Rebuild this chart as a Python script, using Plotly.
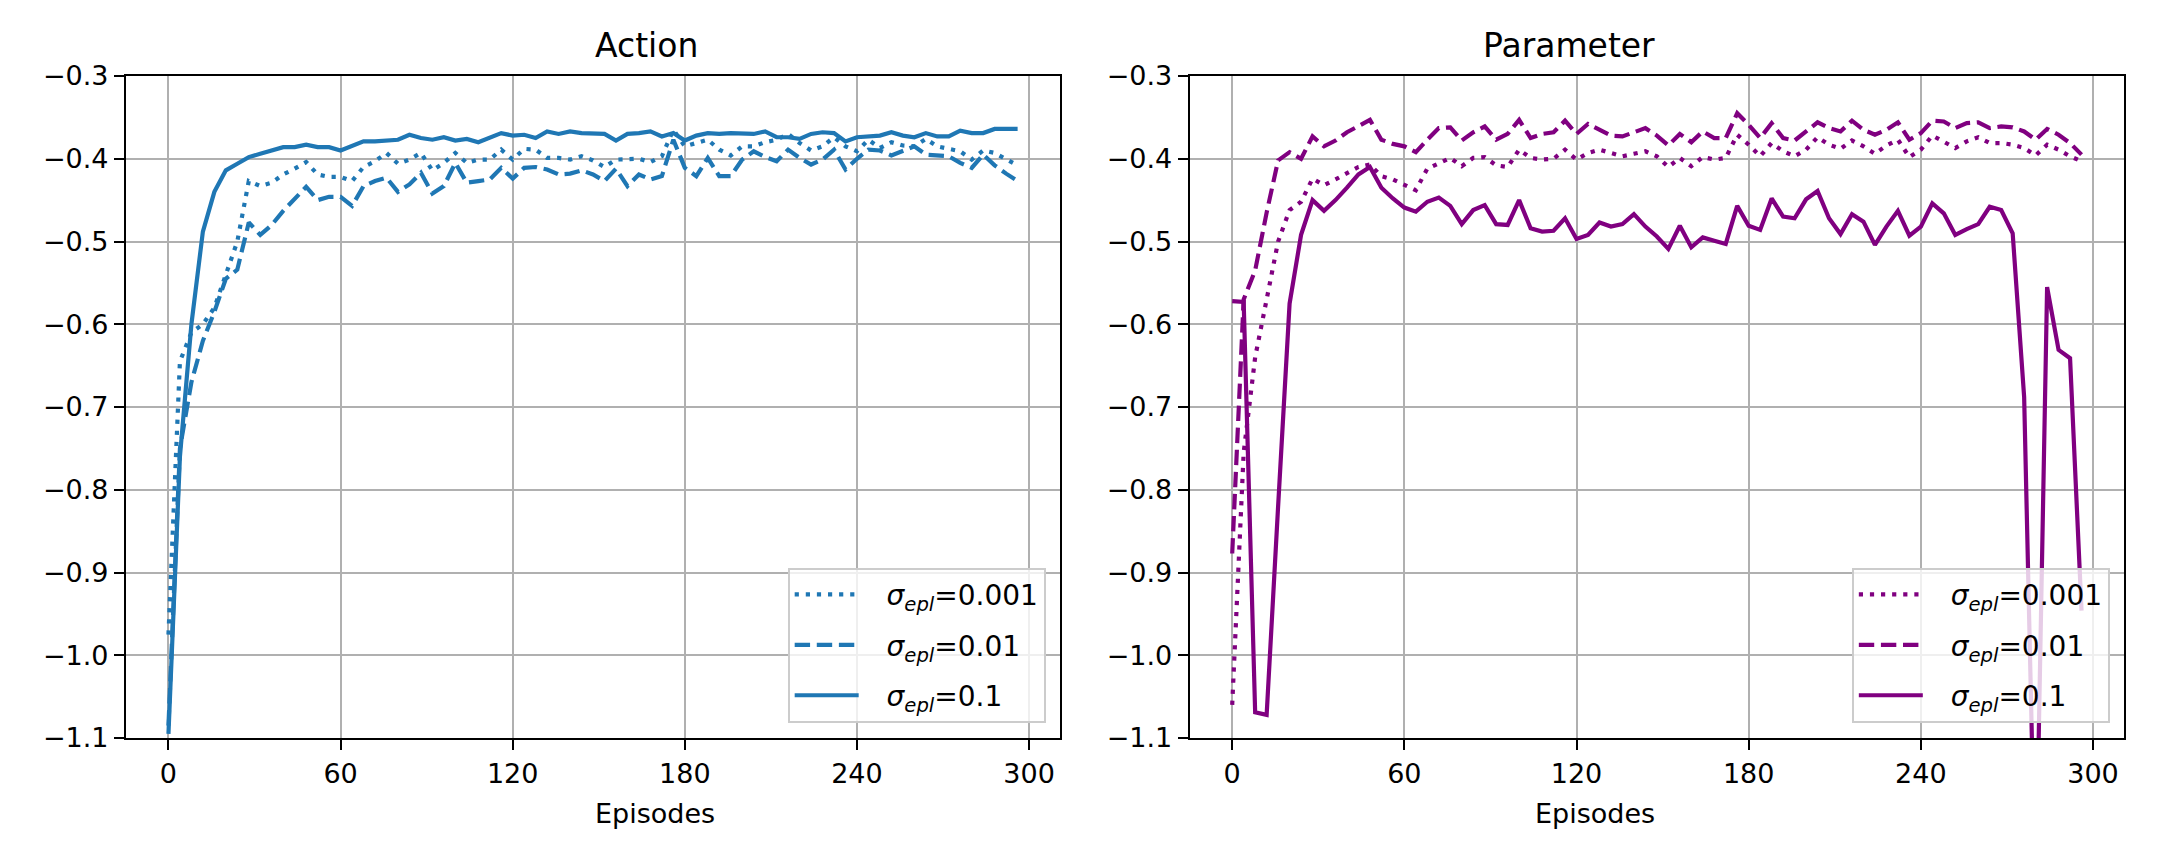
import plotly.graph_objects as go

# episodes on the x axis (one point every 4 episodes)
episodes = list(range(0, 300, 4))

# Action panel
action_001 = [-0.975, -0.645, -0.61, -0.60, -0.58, -0.54, -0.50, -0.427, -0.433, -0.429,
              -0.419, -0.412, -0.404, -0.419, -0.422, -0.422, -0.427, -0.41, -0.403, -0.393,
              -0.406, -0.401, -0.393, -0.414, -0.405, -0.393, -0.405, -0.401, -0.401, -0.389,
              -0.401, -0.388, -0.389, -0.399, -0.399, -0.401, -0.397, -0.402, -0.41, -0.401,
              -0.40, -0.40, -0.404, -0.397, -0.365, -0.385, -0.381, -0.377, -0.389, -0.396,
              -0.385, -0.385, -0.38, -0.377, -0.37, -0.381, -0.39, -0.385, -0.374, -0.385,
              -0.391, -0.377, -0.387, -0.38, -0.384, -0.385, -0.376, -0.385, -0.388, -0.391,
              -0.401, -0.39, -0.393, -0.401, -0.408]
action_01 = [-1.085, -0.75, -0.67, -0.62, -0.585, -0.545, -0.534, -0.477, -0.492, -0.48,
             -0.463, -0.449, -0.434, -0.45, -0.446, -0.446, -0.457, -0.433, -0.427, -0.423,
             -0.44, -0.431, -0.417, -0.442, -0.433, -0.405, -0.429, -0.427, -0.425, -0.411,
             -0.424, -0.411, -0.41, -0.413, -0.419, -0.418, -0.414, -0.419, -0.427, -0.412,
             -0.433, -0.419, -0.425, -0.421, -0.377, -0.411, -0.421, -0.399, -0.421, -0.421,
             -0.401, -0.391, -0.398, -0.403, -0.389, -0.399, -0.407, -0.401, -0.389, -0.413,
             -0.40, -0.389, -0.39, -0.396, -0.39, -0.385, -0.395, -0.396, -0.397, -0.405,
             -0.411, -0.395, -0.408, -0.418, -0.427]
action_1 = [-1.095, -0.76, -0.60, -0.488, -0.44, -0.414, -0.406, -0.398, -0.394, -0.39,
            -0.386, -0.386, -0.383, -0.386, -0.386, -0.39, -0.384, -0.379, -0.379, -0.378,
            -0.377, -0.371, -0.375, -0.377, -0.374, -0.378, -0.376, -0.38, -0.375, -0.369,
            -0.372, -0.371, -0.375, -0.367, -0.37, -0.367, -0.369, -0.369, -0.37, -0.378,
            -0.37, -0.369, -0.367, -0.373, -0.369, -0.378, -0.372, -0.369, -0.37, -0.369,
            -0.369, -0.37, -0.367, -0.374, -0.374, -0.376, -0.37, -0.368, -0.369, -0.379,
            -0.374, -0.373, -0.372, -0.368, -0.372, -0.374, -0.369, -0.373, -0.373, -0.366,
            -0.369, -0.369, -0.364, -0.364, -0.364]

# Parameter panel
param_001 = [-1.06, -0.755, -0.64, -0.57, -0.50, -0.462, -0.452, -0.424, -0.432, -0.425,
             -0.418, -0.41, -0.407, -0.421, -0.425, -0.432, -0.438, -0.412, -0.405, -0.399,
             -0.409, -0.399, -0.398, -0.408, -0.41, -0.389, -0.399, -0.401, -0.40, -0.389,
             -0.401, -0.393, -0.389, -0.393, -0.397, -0.394, -0.391, -0.397, -0.41, -0.399,
             -0.409, -0.398, -0.401, -0.399, -0.371, -0.383, -0.397, -0.381, -0.391, -0.397,
             -0.389, -0.374, -0.383, -0.388, -0.378, -0.385, -0.394, -0.384, -0.377, -0.398,
             -0.389, -0.372, -0.379, -0.387, -0.379, -0.374, -0.381, -0.381, -0.383, -0.387,
             -0.396, -0.383, -0.389, -0.397, -0.403]
param_01 = [-0.877, -0.57, -0.535, -0.465, -0.402, -0.392, -0.40, -0.373, -0.385, -0.378,
            -0.368, -0.36, -0.353, -0.377, -0.382, -0.385, -0.392, -0.377, -0.363, -0.362,
            -0.378, -0.368, -0.361, -0.377, -0.37, -0.353, -0.375, -0.37, -0.368, -0.354,
            -0.37, -0.358, -0.365, -0.372, -0.373, -0.368, -0.363, -0.372, -0.384, -0.37,
            -0.38, -0.367, -0.375, -0.375, -0.345, -0.359, -0.375, -0.357, -0.375, -0.378,
            -0.367, -0.356, -0.363, -0.367, -0.354, -0.365, -0.371, -0.365, -0.356, -0.377,
            -0.369, -0.354, -0.355, -0.363, -0.357, -0.356, -0.363, -0.361, -0.362, -0.367,
            -0.377, -0.364, -0.371, -0.381, -0.395]
param_1 = [-0.572, -0.573, -1.069, -1.072, -0.82, -0.575, -0.492, -0.45, -0.463, -0.45,
           -0.435, -0.419, -0.41, -0.435, -0.448, -0.459, -0.464, -0.452, -0.447, -0.457,
           -0.479, -0.462, -0.456, -0.479, -0.48, -0.45, -0.484, -0.488, -0.487, -0.472,
           -0.497, -0.492, -0.477, -0.482, -0.479, -0.467, -0.482, -0.494, -0.509, -0.481,
           -0.507, -0.495, -0.499, -0.503, -0.457, -0.481, -0.486, -0.448, -0.47, -0.472,
           -0.449, -0.439, -0.472, -0.491, -0.467, -0.476, -0.504, -0.482, -0.463, -0.493,
           -0.482, -0.454, -0.466, -0.492, -0.485, -0.479, -0.458, -0.462, -0.49, -0.688,
           -1.3, -0.555, -0.631, -0.641, -0.946]

labels = ["0.001", "0.01", "0.1"]
x_ticks = [0, 60, 120, 180, 240, 300]
y_ticks = [-1.1, -1.0, -0.9, -0.8, -0.7, -0.6, -0.5, -0.4, -0.3]
y_ticktext = ["\u22121.1", "\u22121.0", "\u22120.9", "\u22120.8", "\u22120.7",
              "\u22120.6", "\u22120.5", "\u22120.4", "\u22120.3"]

FONT = "DejaVu Sans"
dashes = ["4.2px,6.9px", "15.4px,6.7px", "solid"]

fig = go.Figure()

panels = [
    ("x", "y", "legend", "#1f77b4", [action_001, action_01, action_1]),
    ("x2", "y2", "legend2", "#800080", [param_001, param_01, param_1]),
]
for xa, ya, leg, color, series in panels:
    for i, vals in enumerate(series):
        fig.add_trace(go.Scatter(
            x=episodes, y=vals, mode="lines",
            line=dict(color=color, width=4.2, dash=dashes[i]),
            # leading spaces leave a gap between the line sample and the text
            name="\u2002\u00a0<i>\u03c3</i><sub><i>epl</i></sub>=" + labels[i],
            xaxis=xa, yaxis=ya, legend=leg, legendgroup=leg + str(i),
        ))

axis_style = dict(
    showgrid=True, gridcolor="#b0b0b0", gridwidth=2.2, zeroline=False,
    showline=True, linecolor="black", linewidth=2.2, mirror=True,
    ticks="outside", ticklen=10, tickwidth=2.2, tickcolor="black",
    tickfont=dict(family=FONT, size=27, color="black"),
)
xa_style = dict(axis_style, range=[-14.8, 310.8], tickvals=x_ticks)
ya_style = dict(axis_style, range=[-1.1, -0.3], tickvals=y_ticks, ticktext=y_ticktext)

legend_style = dict(
    bgcolor="rgba(255,255,255,0.8)", bordercolor="#cccccc", borderwidth=2,
    font=dict(family=FONT, size=28, color="black"),
    xanchor="right", yanchor="bottom", tracegroupgap=11, itemwidth=64,
)

# the page adds an 8px body margin, so the figure is 8px smaller on each side
fig.update_layout(
    width=2152, height=856,
    margin=dict(l=118, r=36, t=68, b=126),
    plot_bgcolor="white", paper_bgcolor="white",
    font=dict(family=FONT, size=27, color="black"),
    xaxis=dict(xa_style, domain=[0, 0.4675], anchor="y"),
    yaxis=dict(ya_style, domain=[0, 1], anchor="x"),
    xaxis2=dict(xa_style, domain=[0.5324, 1.0], anchor="y2"),
    yaxis2=dict(ya_style, domain=[0, 1], anchor="x2"),
    legend=dict(legend_style, x=0.4603, y=0.023),
    legend2=dict(legend_style, x=0.9929, y=0.023),
    showlegend=True,
)

# titles and x labels
for cx, title in [(0.4675 / 2, "Action"), ((0.5324 + 1.0) / 2, "Parameter")]:
    fig.add_annotation(x=cx, y=1, xref="paper", yref="paper", text=title,
                       showarrow=False, yanchor="bottom", yshift=9,
                       font=dict(family=FONT, size=33, color="black"))
    fig.add_annotation(x=cx, y=0, xref="paper", yref="paper", text="Episodes",
                       showarrow=False, yanchor="middle", yshift=-75,
                       font=dict(family=FONT, size=27, color="black"))

fig.write_html("out.html")
